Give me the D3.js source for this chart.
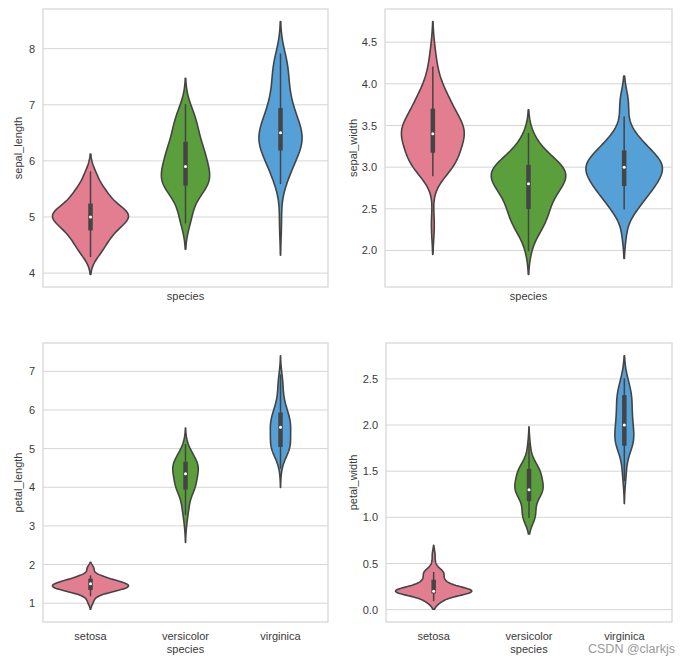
<!DOCTYPE html>
<html><head><meta charset="utf-8">
<script src="https://cdn.jsdelivr.net/npm/d3@7"></script>
<style>
body{margin:0;background:#fff}
svg{display:block}
text{font-family:Arial,"Liberation Sans",sans-serif}
</style>
</head><body>
<svg id="chart" width="687" height="665"></svg>
<script>
// ---------------- data (Iris observations) ----------------
const categories = ["setosa", "versicolor", "virginica"];

const setosa_sepal_length = [5.1,4.9,4.7,4.6,5.0,5.4,4.6,5.0,4.4,4.9,5.4,4.8,4.8,4.3,5.8,5.7,5.4,5.1,5.7,5.1,5.4,5.1,4.6,5.1,4.8,5.0,5.0,5.2,5.2,4.7,4.8,5.4,5.2,5.5,4.9,5.0,5.5,4.9,4.4,5.1,5.0,4.5,4.4,5.0,5.1,4.8,5.1,4.6,5.3,5.0];
const setosa_sepal_width = [3.5,3.0,3.2,3.1,3.6,3.9,3.4,3.4,2.9,3.1,3.7,3.4,3.0,3.0,4.0,4.4,3.9,3.5,3.8,3.8,3.4,3.7,3.6,3.3,3.4,3.0,3.4,3.5,3.4,3.2,3.1,3.4,4.1,4.2,3.1,3.2,3.5,3.6,3.0,3.4,3.5,2.3,3.2,3.5,3.8,3.0,3.8,3.2,3.7,3.3];
const setosa_petal_length = [1.4,1.4,1.3,1.5,1.4,1.7,1.4,1.5,1.4,1.5,1.5,1.6,1.4,1.1,1.2,1.5,1.3,1.4,1.7,1.5,1.7,1.5,1.0,1.7,1.9,1.6,1.6,1.5,1.4,1.6,1.6,1.5,1.5,1.4,1.5,1.2,1.3,1.4,1.3,1.5,1.3,1.3,1.3,1.6,1.9,1.4,1.6,1.4,1.5,1.4];
const setosa_petal_width = [0.2,0.2,0.2,0.2,0.2,0.4,0.3,0.2,0.2,0.1,0.2,0.2,0.1,0.1,0.2,0.4,0.4,0.3,0.3,0.3,0.2,0.4,0.2,0.5,0.2,0.2,0.4,0.2,0.2,0.2,0.2,0.4,0.1,0.2,0.2,0.2,0.2,0.1,0.2,0.2,0.3,0.3,0.2,0.6,0.4,0.3,0.2,0.2,0.2,0.2];

const versicolor_sepal_length = [7.0,6.4,6.9,5.5,6.5,5.7,6.3,4.9,6.6,5.2,5.0,5.9,6.0,6.1,5.6,6.7,5.6,5.8,6.2,5.6,5.9,6.1,6.3,6.1,6.4,6.6,6.8,6.7,6.0,5.7,5.5,5.5,5.8,6.0,5.4,6.0,6.7,6.3,5.6,5.5,5.5,6.1,5.8,5.0,5.6,5.7,5.7,6.2,5.1,5.7];
const versicolor_sepal_width = [3.2,3.2,3.1,2.3,2.8,2.8,3.3,2.4,2.9,2.7,2.0,3.0,2.2,2.9,2.9,3.1,3.0,2.7,2.2,2.5,3.2,2.8,2.5,2.8,2.9,3.0,2.8,3.0,2.9,2.6,2.4,2.4,2.7,2.7,3.0,3.4,3.1,2.3,3.0,2.5,2.6,3.0,2.6,2.3,2.7,3.0,2.9,2.9,2.5,2.8];
const versicolor_petal_length = [4.7,4.5,4.9,4.0,4.6,4.5,4.7,3.3,4.6,3.9,3.5,4.2,4.0,4.7,3.6,4.4,4.5,4.1,4.5,3.9,4.8,4.0,4.9,4.7,4.3,4.4,4.8,5.0,4.5,3.5,3.8,3.7,3.9,5.1,4.5,4.5,4.7,4.4,4.1,4.0,4.4,4.6,4.0,3.3,4.2,4.2,4.2,4.3,3.0,4.1];
const versicolor_petal_width = [1.4,1.5,1.5,1.3,1.5,1.3,1.6,1.0,1.3,1.4,1.0,1.5,1.0,1.4,1.3,1.4,1.5,1.0,1.5,1.1,1.8,1.3,1.5,1.2,1.3,1.4,1.4,1.7,1.5,1.0,1.1,1.0,1.2,1.6,1.5,1.6,1.5,1.3,1.3,1.3,1.2,1.4,1.2,1.0,1.3,1.2,1.3,1.3,1.1,1.3];

const virginica_sepal_length = [6.3,5.8,7.1,6.3,6.5,7.6,4.9,7.3,6.7,7.2,6.5,6.4,6.8,5.7,5.8,6.4,6.5,7.7,7.7,6.0,6.9,5.6,7.7,6.3,6.7,7.2,6.2,6.1,6.4,7.2,7.4,7.9,6.4,6.3,6.1,7.7,6.3,6.4,6.0,6.9,6.7,6.9,5.8,6.8,6.7,6.7,6.3,6.5,6.2,5.9];
const virginica_sepal_width = [3.3,2.7,3.0,2.9,3.0,3.0,2.5,2.9,2.5,3.6,3.2,2.7,3.0,2.5,2.8,3.2,3.0,3.8,2.6,2.2,3.2,2.8,2.8,2.7,3.3,3.2,2.8,3.0,2.8,3.0,2.8,3.8,2.8,2.8,2.6,3.0,3.4,3.1,3.0,3.1,3.1,3.1,2.7,3.2,3.3,3.0,2.5,3.0,3.4,3.0];
const virginica_petal_length = [6.0,5.1,5.9,5.6,5.8,6.6,4.5,6.3,5.8,6.1,5.1,5.3,5.5,5.0,5.1,5.3,5.5,6.7,6.9,5.0,5.7,4.9,6.7,4.9,5.7,6.0,4.8,4.9,5.6,5.8,6.1,6.4,5.6,5.1,5.6,6.1,5.6,5.5,4.8,5.4,5.6,5.1,5.1,5.9,5.7,5.2,5.0,5.2,5.4,5.1];
const virginica_petal_width = [2.5,1.9,2.1,1.8,2.2,2.1,1.7,1.8,1.8,2.5,2.0,1.9,2.1,2.0,2.4,2.3,1.8,2.2,2.3,1.5,2.3,2.0,2.0,1.8,2.1,1.8,1.8,1.8,2.1,1.6,1.9,2.0,2.2,1.5,1.4,2.3,2.4,1.8,1.8,2.1,2.4,2.3,1.9,2.3,2.5,2.3,1.9,2.0,2.3,1.8];

const sepalLengthTicks = ["4", "5", "6", "7", "8"];
const sepalWidthTicks = ["2.0", "2.5", "3.0", "3.5", "4.0", "4.5"];
const petalLengthTicks = ["1", "2", "3", "4", "5", "6", "7"];
const petalWidthTicks = ["0.0", "0.5", "1.0", "1.5", "2.0", "2.5"];

const colors = ["#e27e8f", "#5a9f3c", "#54a0d7"];
const watermark = "CSDN @clarkjs";

// ---------------- layout ----------------
const panels = [
  {label: "sepal_length", groups: [setosa_sepal_length, versicolor_sepal_length, virginica_sepal_length], ticks: sepalLengthTicks, x0: 43, x1: 328, y0: 9, y1: 287, showCats: false, ylabX: 22},
  {label: "sepal_width", groups: [setosa_sepal_width, versicolor_sepal_width, virginica_sepal_width], ticks: sepalWidthTicks, x0: 385, x1: 672, y0: 9, y1: 287, showCats: false, ylabX: 357},
  {label: "petal_length", groups: [setosa_petal_length, versicolor_petal_length, virginica_petal_length], ticks: petalLengthTicks, x0: 43, x1: 328, y0: 343, y1: 622, showCats: true, ylabX: 22},
  {label: "petal_width", groups: [setosa_petal_width, versicolor_petal_width, virginica_petal_width], ticks: petalWidthTicks, x0: 386, x1: 672, y0: 343, y1: 622, showCats: true, ylabX: 357}
];

const gray = "#444444";
const svg = d3.select("#chart");

function kdeCurve(data) {
  const n = data.length;
  const bw = Math.pow(n, -0.2) * d3.deviation(data);
  const lo = d3.min(data) - 2 * bw, hi = d3.max(data) + 2 * bw;
  const grid = d3.range(100).map(i => lo + (hi - lo) * i / 99);
  const norm = n * bw * Math.sqrt(2 * Math.PI);
  return grid.map(v => [v, d3.sum(data, x => Math.exp(-0.5 * ((v - x) / bw) ** 2)) / norm]);
}

function boxStats(data) {
  const s = data.slice().sort(d3.ascending);
  const q1 = d3.quantileSorted(s, 0.25), q2 = d3.quantileSorted(s, 0.5), q3 = d3.quantileSorted(s, 0.75);
  const iqr = q3 - q1;
  const lo = d3.min(s.filter(v => v >= q1 - 1.5 * iqr));
  const hi = d3.max(s.filter(v => v <= q3 + 1.5 * iqr));
  return {q1, q2, q3, lo, hi};
}

panels.forEach(p => {
  const g = svg.append("g");
  const curves = p.groups.map(kdeCurve);
  const vmin = d3.min(curves, c => c[0][0]), vmax = d3.max(curves, c => c[c.length - 1][0]);
  const pad = (vmax - vmin) * 0.05;
  const dmax = d3.max(curves, c => d3.max(c, d => d[1]));

  const y = d3.scaleLinear().domain([vmin - pad, vmax + pad]).range([p.y1, p.y0]);
  const x = d3.scaleBand().domain(categories).range([p.x0, p.x1]).padding(0);
  const w = d3.scaleLinear().domain([0, dmax]).range([0, x.bandwidth() * 0.4]);

  // grid
  const tickVals = p.ticks.map(Number);
  g.selectAll("line.grid").data(tickVals).join("line")
    .attr("x1", p.x0).attr("x2", p.x1)
    .attr("y1", d => y(d)).attr("y2", d => y(d))
    .attr("stroke", "#d6d6d6").attr("stroke-width", 1);

  // y axis labels via d3 axis
  const yAxis = d3.axisLeft(y).tickValues(tickVals).tickFormat((d, i) => p.ticks[i]).tickSize(0).tickPadding(8);
  const ya = g.append("g").attr("transform", `translate(${p.x0},0)`).call(yAxis);
  ya.select(".domain").remove();
  ya.selectAll("text").attr("font-size", 11).attr("fill", "#3a3a3a").style("font-family", "Arial, 'Liberation Sans', sans-serif");

  // violins
  curves.forEach((c, i) => {
    const cx = x(categories[i]) + x.bandwidth() / 2;
    const area = d3.area()
      .y(d => y(d[0]))
      .x0(d => cx - w(d[1]))
      .x1(d => cx + w(d[1]));
    g.append("path").datum(c).attr("d", area)
      .attr("fill", colors[i]).attr("stroke", gray).attr("stroke-width", 1.6)
      .attr("stroke-linejoin", "round");
    const b = boxStats(p.groups[i]);
    g.append("line").attr("x1", cx).attr("x2", cx).attr("y1", y(b.lo)).attr("y2", y(b.hi))
      .attr("stroke", gray).attr("stroke-width", 1.5).attr("stroke-linecap", "square");
    g.append("line").attr("x1", cx).attr("x2", cx).attr("y1", y(b.q1)).attr("y2", y(b.q3))
      .attr("stroke", gray).attr("stroke-width", 4.5).attr("stroke-linecap", "square");
    g.append("circle").attr("cx", cx).attr("cy", y(b.q2)).attr("r", 1.5).attr("fill", "#fff");
  });

  // frame
  g.append("rect").attr("x", p.x0).attr("y", p.y0).attr("width", p.x1 - p.x0).attr("height", p.y1 - p.y0)
    .attr("fill", "none").attr("stroke", "#d6d6d6").attr("stroke-width", 1.25);

  // category labels
  if (p.showCats) {
    const xAxis = d3.axisBottom(x).tickSize(0).tickPadding(10);
    const xa = g.append("g").attr("transform", `translate(0,${p.y1})`).call(xAxis);
    xa.select(".domain").remove();
    xa.selectAll("text").attr("font-size", 11).attr("fill", "#3a3a3a").style("font-family", "Arial, 'Liberation Sans', sans-serif");
  }

  // x label
  g.append("text").attr("x", (p.x0 + p.x1) / 2).attr("y", p.showCats ? p.y1 + 31 : p.y1 + 13)
    .attr("text-anchor", "middle").attr("font-size", 11).attr("fill", "#3a3a3a").text("species");

  // y label
  g.append("text").attr("transform", `translate(${p.ylabX},${(p.y0 + p.y1) / 2}) rotate(-90)`)
    .attr("text-anchor", "middle").attr("font-size", 11).attr("fill", "#3a3a3a").text(p.label);
});

svg.append("text").attr("x", 588).attr("y", 653).attr("font-size", 12.5).attr("fill", "#9a9a9a").text(watermark);
</script>
</body></html>
